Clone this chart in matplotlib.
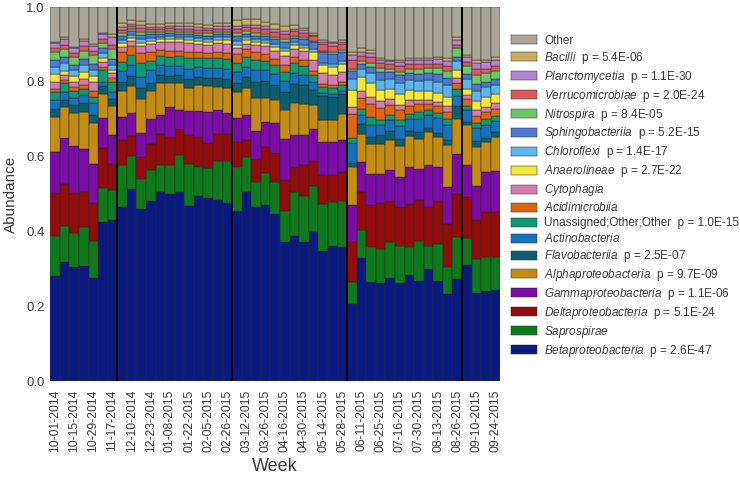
import numpy as np
import matplotlib
matplotlib.use("Agg")
from matplotlib import pyplot as plt

plt.rcParams['font.family'] = ['Liberation Sans', 'DejaVu Sans']
plt.rcParams['mathtext.fontset'] = 'custom'
plt.rcParams['mathtext.rm'] = 'Liberation Sans'
plt.rcParams['mathtext.it'] = 'Liberation Sans:italic'

weeks = ["10-01-2014", "10-08-2014", "10-15-2014", "10-22-2014", "10-29-2014", "11-05-2014",
         "11-17-2014", "12-03-2014", "12-10-2014", "12-17-2014", "12-23-2014", "12-30-2014",
         "01-08-2015", "01-15-2015", "01-22-2015", "01-29-2015", "02-05-2015", "02-12-2015",
         "02-26-2015", "03-05-2015", "03-12-2015", "03-19-2015", "03-26-2015", "04-09-2015",
         "04-16-2015", "04-23-2015", "04-30-2015", "05-07-2015", "05-14-2015", "05-21-2015",
         "05-28-2015", "06-04-2015", "06-11-2015", "06-18-2015", "06-25-2015", "07-09-2015",
         "07-16-2015", "07-23-2015", "07-30-2015", "08-06-2015", "08-13-2015", "08-20-2015",
         "08-26-2015", "09-03-2015", "09-10-2015", "09-17-2015", "09-24-2015"]
tick_labels = weeks[::2]

# season boundaries (between bars)
breaks = [6.5, 18.5, 30.5, 42.5]

# stacked from the bottom up
beta = [.282, .318, .304, .309, .277, .425, .431,
        .465, .513, .461, .481, .507, .501, .505, .467, .496, .491, .484, .476,
        .456, .505, .465, .472, .447, .371, .389, .371, .398, .349, .362, .360,
        .205, .330, .264, .262, .276, .262, .284, .268, .300, .268, .234, .273,
        .310, .237, .240, .243]
sapro = [.107, .096, .092, .102, .099, .091, .079,
         .112, .089, .080, .084, .072, .076, .101, .114, .077, .079, .105, .114,
         .116, .094, .067, .084, .085, .083, .116, .125, .125, .125, .116, .121,
         .061, .074, .096, .091, .095, .100, .076, .108, .062, .099, .070, .112,
         .073, .089, .091, .090]
delta = [.114, .114, .107, .094, .101, .107, .071,
         .069, .053, .058, .068, .081, .076, .069, .076, .079, .068, .073, .071,
         .067, .047, .063, .070, .078, .084, .067, .081, .067, .076, .072, .078,
         .105, .101, .110, .123, .112, .104, .114, .109, .103, .116, .115, .116,
         .109, .105, .121, .119]
gamma = [.111, .123, .125, .117, .104, .082, .076,
         .061, .062, .065, .069, .051, .080, .050, .066, .071, .082, .063, .055,
         .066, .065, .074, .067, .079, .110, .085, .080, .085, .089, .089, .085,
         .099, .081, .084, .078, .082, .080, .098, .083, .112, .089, .100, .107,
         .087, .092, .107, .111]
alpha = [.093, .081, .088, .098, .110, .062, .078,
         .069, .072, .090, .074, .085, .063, .073, .060, .068, .069, .062, .068,
         .069, .072, .087, .065, .062, .076, .087, .085, .063, .059, .059, .070,
         .102, .074, .081, .081, .081, .082, .083, .080, .089, .081, .112, .094,
         .105, .103, .080, .090]
flavo = [.022, .020, .022, .024, .022, .022, .020,
         .024, .027, .029, .022, .022, .020, .022, .024, .022, .022, .024, .024,
         .024, .030, .045, .045, .040, .050, .050, .050, .040, .065, .063, .055,
         .010, .027, .018, .022, .022, .020, .015, .018, .010, .010, .015, .033,
         .010, .015, .012, .012]
actino = [.022, .020, .018, .020, .030, .012, .018,
          .030, .030, .030, .033, .027, .026, .024, .028, .026, .026, .026, .027,
          .030, .028, .032, .028, .030, .028, .030, .028, .022, .008, .008, .008,
          .056, .025, .031, .027, .031, .035, .030, .035, .035, .040, .040, .027,
          .030, .035, .035, .030]
unassigned = [.022, .024, .020, .018, .018, .030, .026,
              .024, .027, .037, .025, .024, .025, .026, .028, .026, .026, .026, .027,
              .022, .026, .025, .026, .024, .026, .026, .022, .018, .016, .016, .016,
              .012, .015, .022, .015, .013, .015, .015, .018, .013, .015, .015, .018,
              .012, .015, .015, .015]
acidi = [.009, .008, .010, .010, .014, .008, .012,
         .025, .024, .027, .024, .016, .016, .014, .016, .015, .015, .016, .016,
         .025, .020, .022, .018, .016, .018, .016, .016, .012, .008, .008, .008,
         .065, .031, .036, .031, .027, .027, .022, .022, .018, .018, .020, .018,
         .018, .018, .018, .018]
cyto = [.018, .016, .014, .016, .024, .014, .012,
        .015, .012, .018, .022, .022, .024, .022, .024, .022, .022, .024, .024,
        .015, .014, .018, .020, .022, .024, .022, .024, .030, .028, .026, .026,
        .018, .018, .018, .018, .015, .013, .015, .012, .011, .010, .015, .013,
        .010, .015, .015, .015]
anaero = [.021, .010, .016, .020, .016, .012, .010,
          .010, .009, .010, .008, .007, .008, .008, .009, .008, .008, .008, .009,
          .010, .010, .008, .008, .010, .012, .010, .010, .020, .022, .022, .022,
          .045, .036, .036, .031, .027, .031, .027, .022, .022, .025, .025, .022,
          .018, .025, .025, .025]
chloro = [.020, .022, .016, .018, .016, .012, .012,
          .008, .008, .009, .008, .007, .007, .007, .008, .007, .007, .008, .008,
          .010, .008, .008, .008, .008, .008, .008, .008, .008, .006, .006, .006,
          .031, .022, .027, .027, .027, .027, .027, .027, .030, .030, .030, .022,
          .025, .027, .027, .025]
sphingo = [.018, .014, .014, .016, .018, .014, .016,
           .010, .010, .012, .009, .008, .008, .008, .009, .009, .009, .009, .009,
           .012, .010, .010, .012, .014, .016, .012, .014, .018, .028, .028, .026,
           .020, .015, .018, .022, .018, .022, .018, .020, .018, .020, .020, .013,
           .015, .018, .015, .015]
nitro = [.022, .022, .020, .022, .024, .014, .026,
         .008, .006, .008, .006, .005, .006, .006, .006, .006, .006, .006, .006,
         .008, .008, .008, .006, .006, .008, .006, .006, .004, .004, .004, .004,
         .005, .007, .011, .009, .008, .010, .012, .013, .014, .016, .018, .022,
         .022, .025, .022, .022]
verruco = [.011, .012, .012, .012, .010, .010, .012,
           .010, .008, .010, .008, .007, .008, .008, .008, .008, .008, .008, .008,
           .012, .010, .012, .012, .014, .014, .012, .012, .012, .018, .018, .016,
           .025, .013, .016, .013, .013, .016, .013, .014, .012, .012, .014, .009,
           .010, .015, .012, .012]
plancto = [.012, .016, .012, .014, .014, .012, .020,
           .007, .006, .008, .006, .006, .006, .006, .007, .007, .007, .007, .007,
           .008, .006, .008, .008, .008, .008, .006, .006, .004, .007, .007, .007,
           .012, .012, .009, .009, .008, .010, .010, .010, .010, .012, .014, .013,
           .012, .018, .018, .018]
bacilli = [.003, .005, .004, .004, .004, .005, .009,
           .012, .010, .010, .008, .007, .007, .008, .009, .008, .008, .008, .008,
           .015, .015, .016, .012, .012, .014, .010, .007, .004, .004, .004, .004,
           .010, .009, .009, .004, .004, .004, .006, .006, .006, .006, .008, .009,
           .006, .008, .007, .007]
other = [.094, .079, .106, .086, .099, .068, .072,
         .041, .034, .038, .045, .046, .043, .043, .041, .045, .047, .043, .043,
         .035, .032, .032, .039, .045, .050, .048, .055, .070, .088, .092, .088,
         .119, .110, .115, .137, .141, .142, .135, .135, .135, .133, .135, .079,
         .128, .140, .140, .133]

layers = [
    (beta, r"$\it{Betaproteobacteria}$  p = 2.6E-47", '#0b1a80'),
    (sapro, r"$\it{Saprospirae}$", '#0e7a1c'),
    (delta, r"$\it{Deltaproteobacteria}$  p = 5.1E-24", '#930c0c'),
    (gamma, r"$\it{Gammaproteobacteria}$  p = 1.1E-06", '#7a0ba6'),
    (alpha, r"$\it{Alphaproteobacteria}$  p = 9.7E-09", '#c48c12'),
    (flavo, r"$\it{Flavobacteriia}$  p = 2.5E-07", '#0c5f70'),
    (actino, r"$\it{Actinobacteria}$", '#1672be'),
    (unassigned, "Unassigned;Other;Other  p = 1.0E-15", '#0e9a72'),
    (acidi, r"$\it{Acidimicrobiia}$", '#e0650f'),
    (cyto, r"$\it{Cytophagia}$", '#d47cb2'),
    (anaero, r"$\it{Anaerolineae}$  p = 2.7E-22", '#f5e63c'),
    (chloro, r"$\it{Chloroflexi}$  p = 1.4E-17", '#5ab6ec'),
    (sphingo, r"$\it{Sphingobacteriia}$  p = 5.2E-15", '#4a78d2'),
    (nitro, r"$\it{Nitrospira}$  p = 8.4E-05", '#6cc865'),
    (verruco, r"$\it{Verrucomicrobiae}$  p = 2.0E-24", '#dc5a5c'),
    (plancto, r"$\it{Planctomycetia}$  p = 1.1E-30", '#b582d2'),
    (bacilli, r"$\it{Bacilli}$  p = 5.4E-06", '#c8ae64'),
    (other, "Other", '#aaa699'),
]

fig = plt.figure(figsize=(7.4, 4.8), dpi=100)
ax = fig.add_axes([0.068, 0.206, 0.608, 0.779])

x = np.arange(len(weeks))
bottom = np.zeros(len(weeks))
handles = []
for vals, label, color in layers:
    vals = np.array(vals)
    h = ax.bar(x, vals, bottom=bottom, width=1.0, color=color, label=label,
               edgecolor='#2a2a2a', linewidth=0.35)
    handles.append(h)
    bottom += vals

for b in breaks:
    ax.axvline(b, color='black', linewidth=1.4)

ax.set_xlim(-0.5, len(weeks) - 0.5)
ax.set_ylim(0, 1.0)
ax.set_yticks([0.0, 0.2, 0.4, 0.6, 0.8, 1.0])
ax.set_yticklabels(['0.0', '0.2', '0.4', '0.6', '0.8', '1.0'])
ax.set_xticks(x[::2])
ax.set_xticklabels(tick_labels, rotation=90)
ax.tick_params(axis='both', length=0, labelsize=9.5, colors='#3a3a3a', pad=4)
ax.tick_params(axis='x', labelsize=8.8, pad=6)
for s in ax.spines.values():
    s.set_visible(False)
ax.set_ylabel("Abundance", fontsize=11, color='#3a3a3a', labelpad=6)
ax.set_xlabel("Week", fontsize=13, color='#3a3a3a', labelpad=4)

leg = fig.legend(handles[::-1], [l[1] for l in layers][::-1], loc='upper left',
                 bbox_to_anchor=(0.683, 0.94), frameon=False, fontsize=8.5,
                 handlelength=2.2, handleheight=0.8, handletextpad=0.6,
                 labelspacing=0.25, borderpad=0)
for t in leg.get_texts():
    t.set_color('#3a3a3a')

plt.savefig('out.png', dpi=100)
